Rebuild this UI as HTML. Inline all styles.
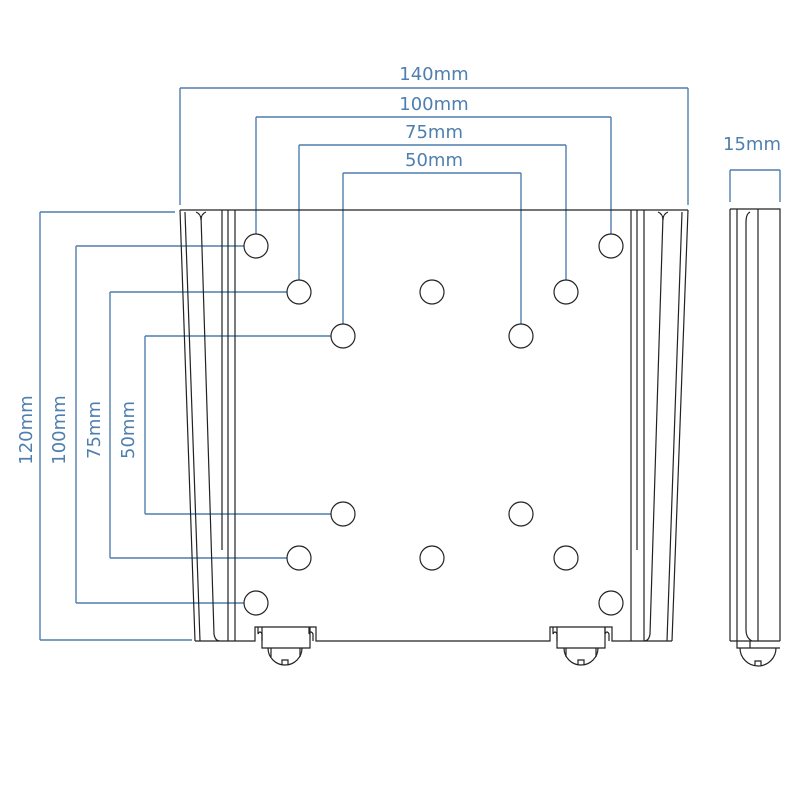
<!DOCTYPE html>
<html><head><style>body{margin:0;background:#fff}svg{display:block}</style></head><body>
<svg width="800" height="800" viewBox="0 0 800 800" xmlns="http://www.w3.org/2000/svg">
<g stroke="#4f7fae" stroke-width="1.4" fill="none">
<path d="M180 88H688M180 88V205M688 88V205"/>
<path d="M256 117H611M256 117V234M611 117V234"/>
<path d="M299 145H566M299 145V280M566 145V280"/>
<path d="M343 173H521M343 173V324M521 173V324"/>
<path d="M730 170H780M730 170V202M780 170V202"/>
<path d="M40 212V640M40 212H175M40 640H192"/>
<path d="M76 246V603M76 246H244M76 603H244"/>
<path d="M110 292V558M110 292H287M110 558H287"/>
<path d="M145 336V514M145 336H331M145 514H331"/>
</g>
<g fill="#4f7fae" font-family="DejaVu Sans, sans-serif" font-size="18" text-anchor="middle">
<text x="434" y="80">140mm</text>
<text x="434" y="110">100mm</text>
<text x="434" y="138">75mm</text>
<text x="434" y="166">50mm</text>
<text x="752" y="150">15mm</text>
<text transform="translate(32,430) rotate(-90)">120mm</text>
<text transform="translate(65,430) rotate(-90)">100mm</text>
<text transform="translate(100,430) rotate(-90)">75mm</text>
<text transform="translate(134,430) rotate(-90)">50mm</text>
</g>
<g stroke="#222" stroke-width="1.2" fill="none">
<path d="M180 210H688"/>
<path d="M180 210L195 641M185 212L200 641M201 216L214 634Q215 641 220 641M195 641H235"/>
<path d="M196 212Q201 214 201 220M206 212Q201 214 201 220"/>
<path d="M222 210V550M228 210V641M235 210V641"/>
<path d="M688 210L672 641M682 212L667 641M663 216L650 634Q649 641 644 641M630 641H672"/>
<path d="M658 212Q663 214 663 220M668 212Q663 214 663 220"/>
<path d="M644 210V641M637 210V550M631 210V641"/>
<path d="M235 641H255V627H316V641H550V627H612V641H630"/>
<path d="M258 627V634Q260 630 262 634V641M309 627V634Q311 630 313 634V641"/>
<path d="M262 627V648H310V627M271 648V657M300 648V657M262 648H310"/>
<path d="M268 648A17 17 0 0 0 302 648M282 665V660H288V665"/>
<path d="M553 627V634Q555 630 557 634V641M605 627V634Q607 630 609 634V641"/>
<path d="M557 627V648H605V627M566 648V657M596 648V657"/>
<path d="M564 648A17 17 0 0 0 598 648M578 665V660H584V665"/>
<path d="M730 209H780V641M730 209V641M737 209V641M758 209V641M750 212Q746 214 746 222V630Q746 638 752 641M730 641H780M737 641V648H780M750 641V648"/>
<path d="M740 648A18 18 0 0 0 776 648M755 666V661H761V666"/>
<g fill="#fff">
<circle cx="256" cy="246" r="12"/><circle cx="611" cy="246" r="12"/>
<circle cx="299" cy="292" r="12"/><circle cx="432" cy="292" r="12"/><circle cx="566" cy="292" r="12"/>
<circle cx="343" cy="336" r="12"/><circle cx="521" cy="336" r="12"/>
<circle cx="343" cy="514" r="12"/><circle cx="521" cy="514" r="12"/>
<circle cx="299" cy="558" r="12"/><circle cx="432" cy="558" r="12"/><circle cx="566" cy="558" r="12"/>
<circle cx="256" cy="603" r="12"/><circle cx="611" cy="603" r="12"/>
</g>
</g>
</svg>
</body></html>
